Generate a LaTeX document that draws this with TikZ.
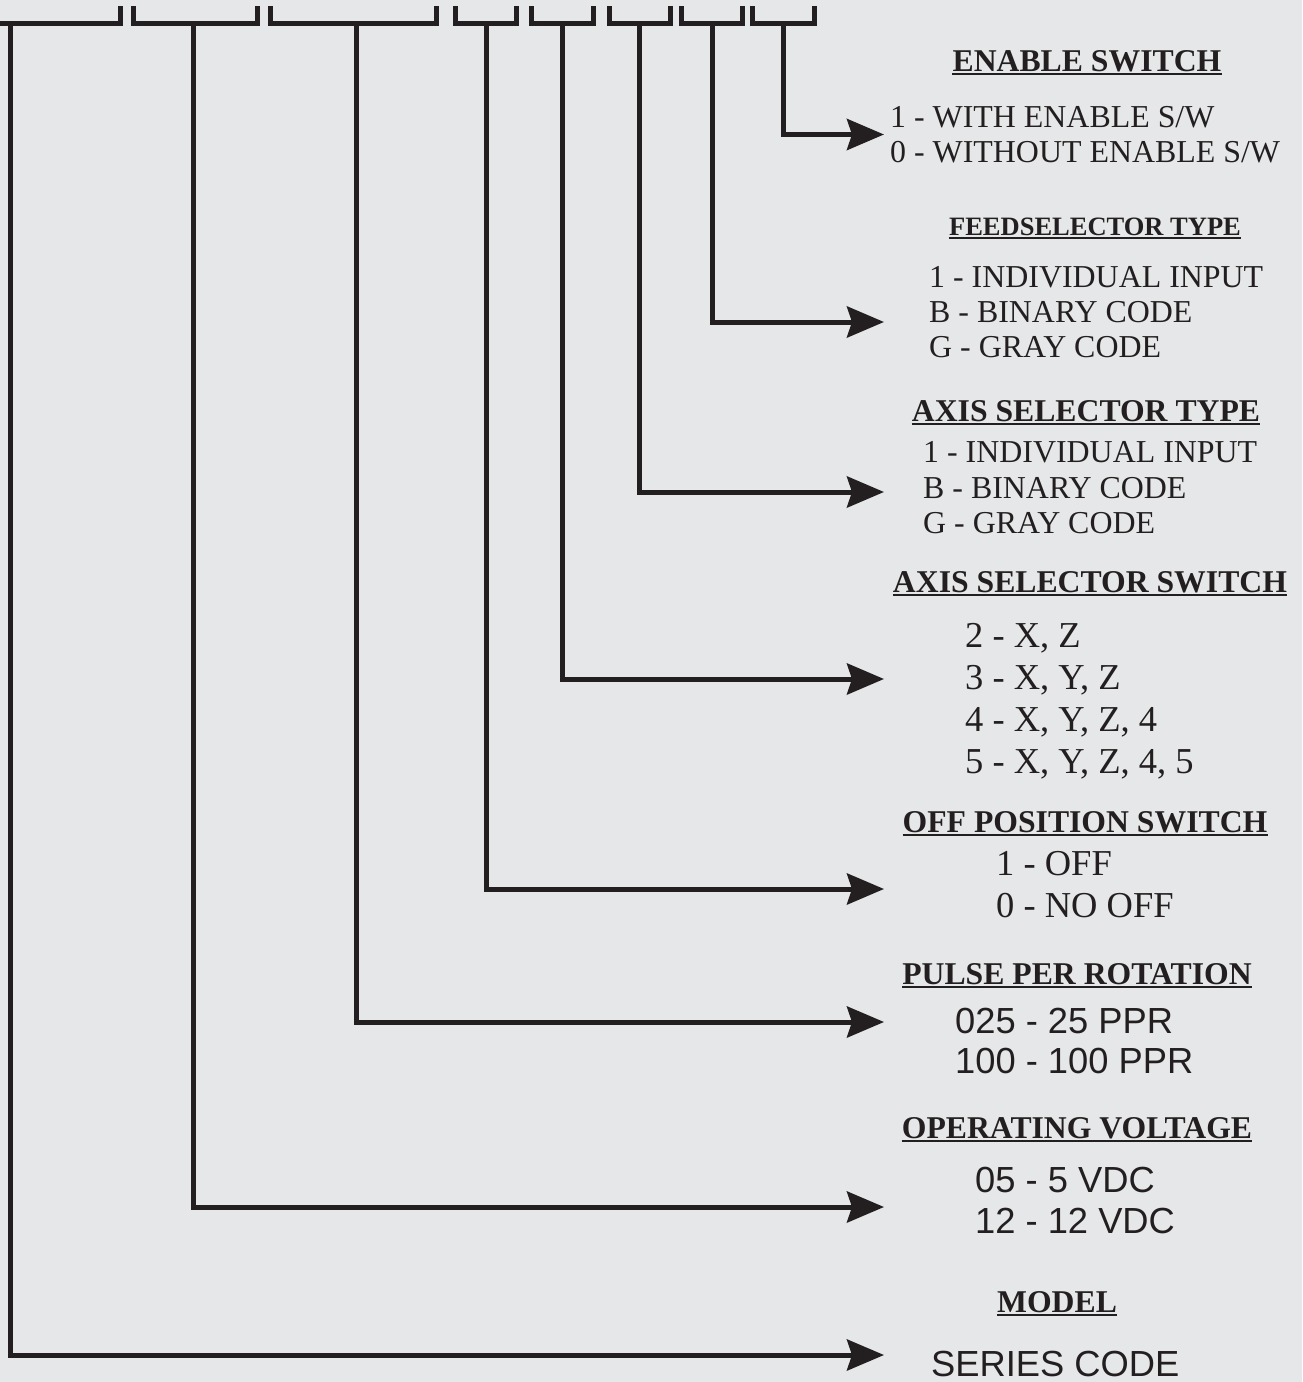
\documentclass[tikz,border=0pt]{standalone}
\usepackage{fontspec}
\setmainfont{Liberation Serif}
\newfontfamily\arialfont{Liberation Sans}
\usetikzlibrary{arrows.meta}
\definecolor{bgc}{HTML}{E6E7E8}
\definecolor{ink}{HTML}{231F20}
\tikzset{
  bracketline/.style={draw=ink, line width=5pt, line join=miter, line cap=butt},
  conn/.style={draw=ink, line width=5pt, line join=miter,
    -{Stealth[length=37pt, width=31pt, inset=5pt]}},
  ttl/.style={inner sep=0pt, anchor=base, text=ink,
    font=\fontsize{31.7}{35}\selectfont\bfseries},
  ttlsmall/.style={ttl, font=\fontsize{26.5}{30}\selectfont\bfseries},
  itm/.style={inner sep=0pt, anchor=base west, text=ink,
    font=\fontsize{31.9}{35}\selectfont},
  itmbig/.style={itm, font=\fontsize{36.5}{40}\selectfont},
  itmsans/.style={itm, font=\fontsize{36.3}{40}\selectfont\arialfont},
  uline/.style={draw=ink, line width=2.6pt}
}
\newcommand{\ulinenode}[1]{\draw[uline] ([yshift=-3pt]#1.base west) -- ([yshift=-3pt]#1.base east);}
\begin{document}
\begin{tikzpicture}[x=1pt, y=-1pt]
\fill[bgc] (0,0) rectangle (1302,1382);
\useasboundingbox (0,0) rectangle (1302,1382);

% top brackets
\draw[bracketline] (-10,23.5) -- (120.5,23.5) -- (120.5,6);
\draw[bracketline] (133,6) |- (257.5,23.5) -- (257.5,6);
\draw[bracketline] (270.5,6) |- (436,23.5) -- (436,6);
\draw[bracketline] (455,6) |- (516,23.5) -- (516,6);
\draw[bracketline] (531.5,6) |- (593.5,23.5) -- (593.5,6);
\draw[bracketline] (609,6) |- (670,23.5) -- (670,6);
\draw[bracketline] (681,6) |- (742.5,23.5) -- (742.5,6);
\draw[bracketline] (752.5,6) |- (814,23.5) -- (814,6);

% stem starts
\coordinate (s1) at (10.5,23.5);
\coordinate (s2) at (193.5,23.5);
\coordinate (s3) at (356,23.5);
\coordinate (s4) at (486,23.5);
\coordinate (s5) at (562.5,23.5);
\coordinate (s6) at (639,23.5);
\coordinate (s7) at (712,23.5);
\coordinate (s8) at (783.5,23.5);

% arrow ends
\coordinate (e8) at (884,134.5);
\coordinate (e7) at (884,322);
\coordinate (e6) at (884,492);
\coordinate (e5) at (884,679);
\coordinate (e4) at (884,889);
\coordinate (e3) at (884,1022);
\coordinate (e2) at (884,1207);
\coordinate (e1) at (884,1355);

\foreach \i in {1,...,8} {\draw[conn] (s\i) |- (e\i);}

% ENABLE SWITCH
\node[ttl] (t8) at (1087,71) {ENABLE SWITCH}; \ulinenode{t8}
\node[itm] (i8a) at (890,127) {1 - WITH ENABLE S/W};
\node[itm] (i8b) at (890,162) {0 - WITHOUT ENABLE S/W};

% FEEDSELECTOR TYPE
\node[ttlsmall] (t7) at (1095,235) {FEEDSELECTOR TYPE}; \ulinenode{t7}
\node[itm] (i7a) at (929,287) {1 - INDIVIDUAL INPUT};
\node[itm] (i7b) at (929,322) {B - BINARY CODE};
\node[itm] (i7c) at (929,357) {G - GRAY CODE};

% AXIS SELECTOR TYPE
\node[ttl] (t6) at (1086,421) {AXIS SELECTOR TYPE}; \ulinenode{t6}
\node[itm] (i6a) at (923,462) {1 - INDIVIDUAL INPUT};
\node[itm] (i6b) at (923,498) {B - BINARY CODE};
\node[itm] (i6c) at (923,533) {G - GRAY CODE};

% AXIS SELECTOR SWITCH
\node[ttl] (t5) at (1090,592) {AXIS SELECTOR SWITCH}; \ulinenode{t5}
\node[itmbig] (i5a) at (965,647) {2 - X, Z};
\node[itmbig] (i5b) at (965,689) {3 - X, Y, Z};
\node[itmbig] (i5c) at (965,731) {4 - X, Y, Z, 4};
\node[itmbig] (i5d) at (965,773) {5 - X, Y, Z, 4, 5};

% OFF POSITION SWITCH
\node[ttl] (t4) at (1085,832) {OFF POSITION SWITCH}; \ulinenode{t4}
\node[itmbig] (i4a) at (996,875) {1 - OFF};
\node[itmbig] (i4b) at (996,917) {0 - NO OFF};

% PULSE PER ROTATION
\node[ttl] (t3) at (1077,984) {PULSE PER ROTATION}; \ulinenode{t3}
\node[itmsans] (i3a) at (955,1033) {025 - 25 PPR};
\node[itmsans] (i3b) at (955,1073) {100 - 100 PPR};

% OPERATING VOLTAGE
\node[ttl] (t2) at (1077,1138) {OPERATING VOLTAGE}; \ulinenode{t2}
\node[itmsans] (i2a) at (975,1192) {05 - 5 VDC};
\node[itmsans] (i2b) at (975,1233) {12 - 12 VDC};

% MODEL
\node[ttl] (t1) at (1057,1312) {MODEL}; \ulinenode{t1}
\node[itmsans] (i1a) at (931,1376) {SERIES CODE};
\end{tikzpicture}
\end{document}
